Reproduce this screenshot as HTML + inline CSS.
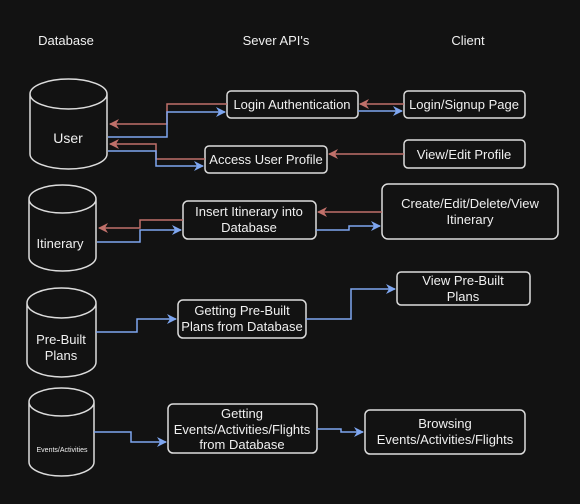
<!DOCTYPE html>
<html><head><style>html,body{margin:0;padding:0;background:#121212;}svg{display:block}</style></head>
<body>
<svg width="580" height="504" viewBox="0 0 580 504" xmlns="http://www.w3.org/2000/svg" font-family="Liberation Sans, Arial, sans-serif">
<defs>
<marker id="r" markerWidth="10" markerHeight="10" refX="9" refY="5" orient="auto" markerUnits="userSpaceOnUse"><path d="M0,0 L10,5 L0,10 L3,5 Z" fill="#c0706a"/></marker>
<marker id="b" markerWidth="10" markerHeight="10" refX="9" refY="5" orient="auto" markerUnits="userSpaceOnUse"><path d="M0,0 L10,5 L0,10 L3,5 Z" fill="#7ea6f0"/></marker>
</defs>
<rect width="580" height="504" fill="#121212"/>
<g fill="#f0f0f0" font-size="13" text-anchor="middle">
<text x="66" y="45">Database</text>
<text x="276" y="45">Sever API's</text>
<text x="468" y="45">Client</text>
</g>
<g fill="none" stroke="#dcdcdc" stroke-width="1.5">
<path d="M30,94 A38.5,15 0 0 1 107,94 L107,154 A38.5,15 0 0 1 30,154 Z M30,94 A38.5,15 0 0 0 107,94"/>
<path d="M29,199 A33.5,14 0 0 1 96,199 L96,257 A33.5,14 0 0 1 29,257 Z M29,199 A33.5,14 0 0 0 96,199"/>
<path d="M27,303 A34.5,15 0 0 1 96,303 L96,362 A34.5,15 0 0 1 27,362 Z M27,303 A34.5,15 0 0 0 96,303"/>
<path d="M29,402 A32.5,14 0 0 1 94,402 L94,462 A32.5,14 0 0 1 29,462 Z M29,402 A32.5,14 0 0 0 94,402"/>
<rect x="227" y="91" width="131" height="27" rx="4"/>
<rect x="404" y="91" width="121" height="27" rx="4"/>
<rect x="205" y="146" width="122" height="27" rx="4"/>
<rect x="404" y="140" width="121" height="28" rx="4"/>
<rect x="183" y="201" width="133" height="38" rx="5"/>
<rect x="382" y="184" width="176" height="55" rx="6"/>
<rect x="178" y="300" width="128" height="38" rx="5"/>
<rect x="397" y="272" width="133" height="33" rx="4"/>
<rect x="168" y="404" width="149" height="49" rx="5"/>
<rect x="365" y="410" width="160" height="44" rx="5"/>
</g>
<g fill="none" stroke-width="1.5">
<path d="M227,104 H167 V124 H110" stroke="#c0706a" marker-end="url(#r)"/>
<path d="M108,137 H167 V112 H225" stroke="#7ea6f0" marker-end="url(#b)"/>
<path d="M205,159 H156 V144 H110" stroke="#c0706a" marker-end="url(#r)"/>
<path d="M108,151 H156 V166 H203" stroke="#7ea6f0" marker-end="url(#b)"/>
<path d="M404,104 H360" stroke="#c0706a" marker-end="url(#r)"/>
<path d="M358,111 H402" stroke="#7ea6f0" marker-end="url(#b)"/>
<path d="M404,154 H329" stroke="#c0706a" marker-end="url(#r)"/>
<path d="M382,212 H318" stroke="#c0706a" marker-end="url(#r)"/>
<path d="M316,230 H349 V226 H380" stroke="#7ea6f0" marker-end="url(#b)"/>
<path d="M183,220 H140 V228 H99" stroke="#c0706a" marker-end="url(#r)"/>
<path d="M97,242 H140 V230 H181" stroke="#7ea6f0" marker-end="url(#b)"/>
<path d="M96,332 H137 V319 H176" stroke="#7ea6f0" marker-end="url(#b)"/>
<path d="M306,319 H351 V289 H395" stroke="#7ea6f0" marker-end="url(#b)"/>
<path d="M94,432 H131 V442 H166" stroke="#7ea6f0" marker-end="url(#b)"/>
<path d="M317,429 H341 V432 H363" stroke="#7ea6f0" marker-end="url(#b)"/>
</g>
<g fill="#f0f0f0" font-size="13" text-anchor="middle">
<text x="68" y="143" font-size="14">User</text>
<text x="60" y="248">Itinerary</text>
<text x="61" y="344">Pre-Built</text>
<text x="61" y="360">Plans</text>
<text x="62" y="452" font-size="7">Events/Activities</text>
<text x="292" y="109">Login Authentication</text>
<text x="464" y="109">Login/Signup Page</text>
<text x="266" y="164">Access User Profile</text>
<text x="464" y="159">View/Edit Profile</text>
<text x="249" y="216">Insert Itinerary into</text>
<text x="249" y="232">Database</text>
<text x="470" y="208">Create/Edit/Delete/View</text>
<text x="470" y="224">Itinerary</text>
<text x="242" y="315">Getting Pre-Built</text>
<text x="242" y="331">Plans from Database</text>
<text x="463" y="285">View Pre-Built</text>
<text x="463" y="301">Plans</text>
<text x="242" y="418">Getting</text>
<text x="242" y="434">Events/Activities/Flights</text>
<text x="242" y="449">from Database</text>
<text x="445" y="428">Browsing</text>
<text x="445" y="444">Events/Activities/Flights</text>
</g>
</svg>
</body></html>
